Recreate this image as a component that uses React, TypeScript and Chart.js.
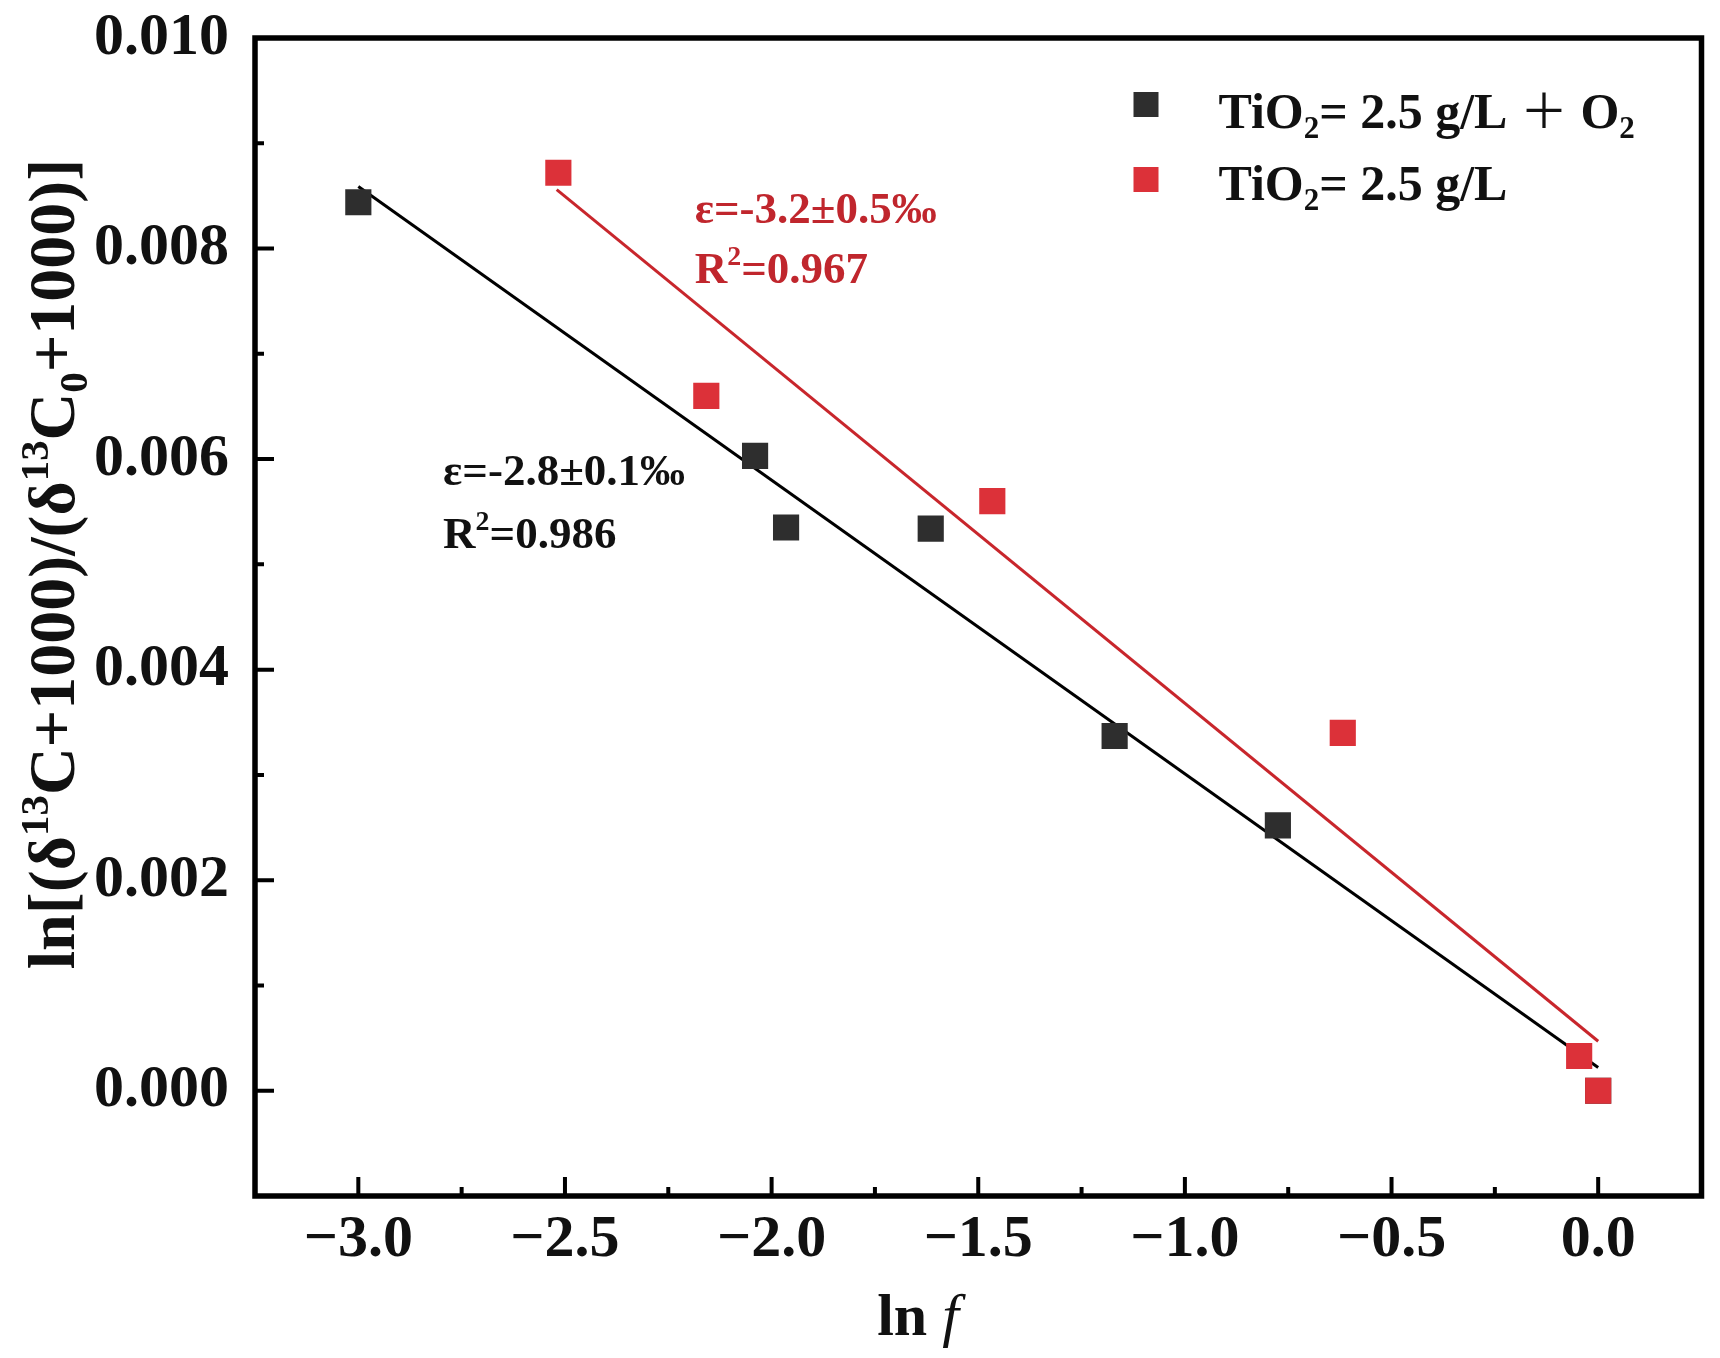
import React, { useEffect, useRef } from 'react';
import Chart from 'chart.js/auto';

// values
const blackX = [-3.0, -2.04, -1.965, -1.615, -1.17, -0.775, 0.0];
const blackY = [0.00844, 0.00603, 0.00535, 0.00534, 0.00337, 0.00252, 0.0];
const redX = [-2.516, -2.158, -1.466, -0.618, -0.046, 0.0];
const redY = [0.00872, 0.0066, 0.0056, 0.0034, 0.00033, 0.0];

// fitted lines (end points)
const blackFitX = [-3.0, 0.0];
const blackFitY = [0.00859, 0.00022];
const redFitX = [-2.52, 0.0];
const redFitY = [0.00856, 0.00047];

const xMajor = [-3.0, -2.5, -2.0, -1.5, -1.0, -0.5, 0.0];
const xMinor = [-2.75, -2.25, -1.75, -1.25, -0.75, -0.25];
const yMajor = [0.0, 0.002, 0.004, 0.006, 0.008, 0.01];
const yMinor = [0.001, 0.003, 0.005, 0.007, 0.009];

const BLACK = '#2e2e2e';
const RED = '#dc3139';
const RED_LINE = '#c8262c';
const RED_TEXT = '#c0262d';
const SERIF = '"Liberation Serif", "Times New Roman", serif';

type Seg = { t: string; s?: 'sup' | 'sub'; italic?: boolean; weight?: string; size?: number; family?: string };

const segFont = (g: Seg, size: number) => {
  const sz = g.size ?? (g.s ? size * 0.62 : size);
  return `${g.italic ? 'italic ' : ''}${g.weight ?? 'bold'} ${sz}px ${g.family ?? SERIF}`;
};

// draws text with super/subscripts, starting at x on baseline y
function drawRich(ctx: CanvasRenderingContext2D, segs: Seg[], x: number, y: number, size: number, color: string, center = false) {
  ctx.save();
  ctx.fillStyle = color;
  ctx.textBaseline = 'alphabetic';
  ctx.textAlign = 'left';
  const widths = segs.map((g) => {
    ctx.font = segFont(g, size);
    return ctx.measureText(g.t).width;
  });
  const total = widths.reduce((a, b) => a + b, 0);
  let cx = center ? x - total / 2 : x;
  segs.forEach((g, i) => {
    ctx.font = segFont(g, size);
    const dy = g.s === 'sup' ? -size * 0.4 : g.s === 'sub' ? size * 0.2 : 0;
    ctx.fillText(g.t, cx, y + dy);
    cx += widths[i];
  });
  ctx.restore();
}

const yTitle: Seg[] = [
  { t: 'ln[(δ' }, { t: '13', s: 'sup' }, { t: 'C+1000)/(δ' }, { t: '13', s: 'sup' },
  { t: 'C' }, { t: '0', s: 'sub' }, { t: '+1000)]' },
];
const xTitle: Seg[] = [{ t: 'ln ' }, { t: 'f', italic: true, weight: 'normal' }];
const legend1: Seg[] = [
  { t: 'TiO' }, { t: '2', s: 'sub' }, { t: '= 2.5 g/L ' },
  { t: '＋', weight: 'normal', size: 48, family: '"Noto Sans CJK SC", sans-serif' },
  { t: ' O' }, { t: '2', s: 'sub' },
];
const legend2: Seg[] = [{ t: 'TiO' }, { t: '2', s: 'sub' }, { t: '= 2.5 g/L' }];

const decorPlugin = {
  id: 'decor',
  afterDraw(chart: any) {
    const ctx: CanvasRenderingContext2D = chart.ctx;
    const { left, right, top, bottom } = chart.chartArea;
    const xs = chart.scales.x;
    const ys = chart.scales.y;

    ctx.save();
    ctx.strokeStyle = '#000';
    ctx.lineWidth = 4;
    ctx.lineCap = 'butt';
    ctx.beginPath();
    xMajor.forEach((v) => { const px = xs.getPixelForValue(v); ctx.moveTo(px, bottom); ctx.lineTo(px, bottom - 19); });
    xMinor.forEach((v) => { const px = xs.getPixelForValue(v); ctx.moveTo(px, bottom); ctx.lineTo(px, bottom - 9); });
    yMajor.forEach((v) => { const py = ys.getPixelForValue(v); ctx.moveTo(left, py); ctx.lineTo(left + 19, py); });
    yMinor.forEach((v) => { const py = ys.getPixelForValue(v); ctx.moveTo(left, py); ctx.lineTo(left + 9, py); });
    ctx.stroke();
    ctx.lineWidth = 5.5;
    ctx.strokeRect(left, top, right - left, bottom - top);
    ctx.restore();

    // fit annotations
    const ax = (v: number) => xs.getPixelForValue(v);
    const ay = (v: number) => ys.getPixelForValue(v);
    drawRich(ctx, [{ t: 'ε=-3.2±0.5‰' }], ax(-2.186), ay(0.00824), 45, RED_TEXT);
    drawRich(ctx, [{ t: 'R' }, { t: '2', s: 'sup' }, { t: '=0.967' }], ax(-2.186), ay(0.00767), 45, RED_TEXT);
    drawRich(ctx, [{ t: 'ε=-2.8±0.1‰' }], ax(-2.795), ay(0.00575), 45, '#111');
    drawRich(ctx, [{ t: 'R' }, { t: '2', s: 'sup' }, { t: '=0.986' }], ax(-2.795), ay(0.00516), 45, '#111');

    // legend
    ctx.save();
    ctx.fillStyle = BLACK;
    ctx.fillRect(right - 568, top + 54, 25, 25);
    ctx.fillStyle = RED;
    ctx.fillRect(right - 568, top + 129, 25, 25);
    ctx.restore();
    drawRich(ctx, legend1, right - 483, top + 90, 50, '#111');
    drawRich(ctx, legend2, right - 483, top + 162, 50, '#111');

    // axis titles
    drawRich(ctx, xTitle, 918, 1335, 60, '#111', true);
    ctx.save();
    ctx.translate(74, 564);
    ctx.rotate(-Math.PI / 2);
    drawRich(ctx, yTitle, 0, 0, 66, '#111', true);
    ctx.restore();
  },
};

export default function App() {
  const canvasRef = useRef<HTMLCanvasElement>(null);
  const chartRef = useRef<Chart | null>(null);

  useEffect(() => {
    document.body.style.margin = '0';
    if (!canvasRef.current) return;
    if (chartRef.current) chartRef.current.destroy();

    const pts = (xs: number[], ys: number[]) => xs.map((x, i) => ({ x, y: ys[i] }));
    const tickFont = { family: SERIF, size: 60, weight: 'bold' as const };

    chartRef.current = new Chart(canvasRef.current, {
      type: 'scatter',
      data: {
        datasets: [
          {
            label: 'TiO2= 2.5 g/L',
            data: pts(redX, redY),
            pointStyle: 'rect',
            pointRadius: 18.5,
            backgroundColor: RED,
            borderWidth: 0,
            order: 0,
          },
          {
            label: 'TiO2= 2.5 g/L + O2',
            data: pts(blackX, blackY),
            pointStyle: 'rect',
            pointRadius: 18.5,
            backgroundColor: BLACK,
            borderWidth: 0,
            order: 1,
          },
          {
            label: 'red fit',
            data: pts(redFitX, redFitY),
            showLine: true,
            pointRadius: 0,
            borderColor: RED_LINE,
            borderWidth: 3,
            order: 2,
          },
          {
            label: 'black fit',
            data: pts(blackFitX, blackFitY),
            showLine: true,
            pointRadius: 0,
            borderColor: '#000',
            borderWidth: 3,
            order: 3,
          },
        ],
      },
      options: {
        responsive: false,
        animation: false,
        devicePixelRatio: 1,
        layout: { padding: { top: 38, right: 15, left: 0, bottom: 0 } },
        plugins: {
          legend: { display: false },
          tooltip: { enabled: false },
        },
        scales: {
          x: {
            type: 'linear',
            min: -3.25,
            max: 0.25,
            grid: { display: false, drawTicks: false },
            border: { display: false },
            afterBuildTicks: (s: any) => { s.ticks = xMajor.map((v) => ({ value: v })); },
            afterFit: (s: any) => { s.height = 162; s.paddingLeft = 0; s.paddingRight = 0; },
            ticks: {
              color: '#111',
              font: tickFont,
              padding: 8,
              maxRotation: 0,
              autoSkip: false,
              callback: (v: any) => (Number(v) < 0 ? '−' + Math.abs(Number(v)).toFixed(1) : Number(v).toFixed(1)),
            },
          },
          y: {
            type: 'linear',
            min: -0.001,
            max: 0.01,
            grid: { display: false, drawTicks: false },
            border: { display: false },
            afterBuildTicks: (s: any) => { s.ticks = yMajor.map((v) => ({ value: v })); },
            afterFit: (s: any) => { s.width = 255; s.paddingTop = 0; s.paddingBottom = 0; },
            ticks: {
              color: '#111',
              font: tickFont,
              padding: 26,
              autoSkip: false,
              callback: (v: any) => Number(v).toFixed(3),
            },
          },
        },
      },
      plugins: [decorPlugin],
    });

    return () => {
      if (chartRef.current) {
        chartRef.current.destroy();
        chartRef.current = null;
      }
    };
  }, []);

  return (
    <div style={{ width: 1720, height: 1358, background: '#fff' }}>
      <canvas ref={canvasRef} width={1720} height={1358} />
    </div>
  );
}
